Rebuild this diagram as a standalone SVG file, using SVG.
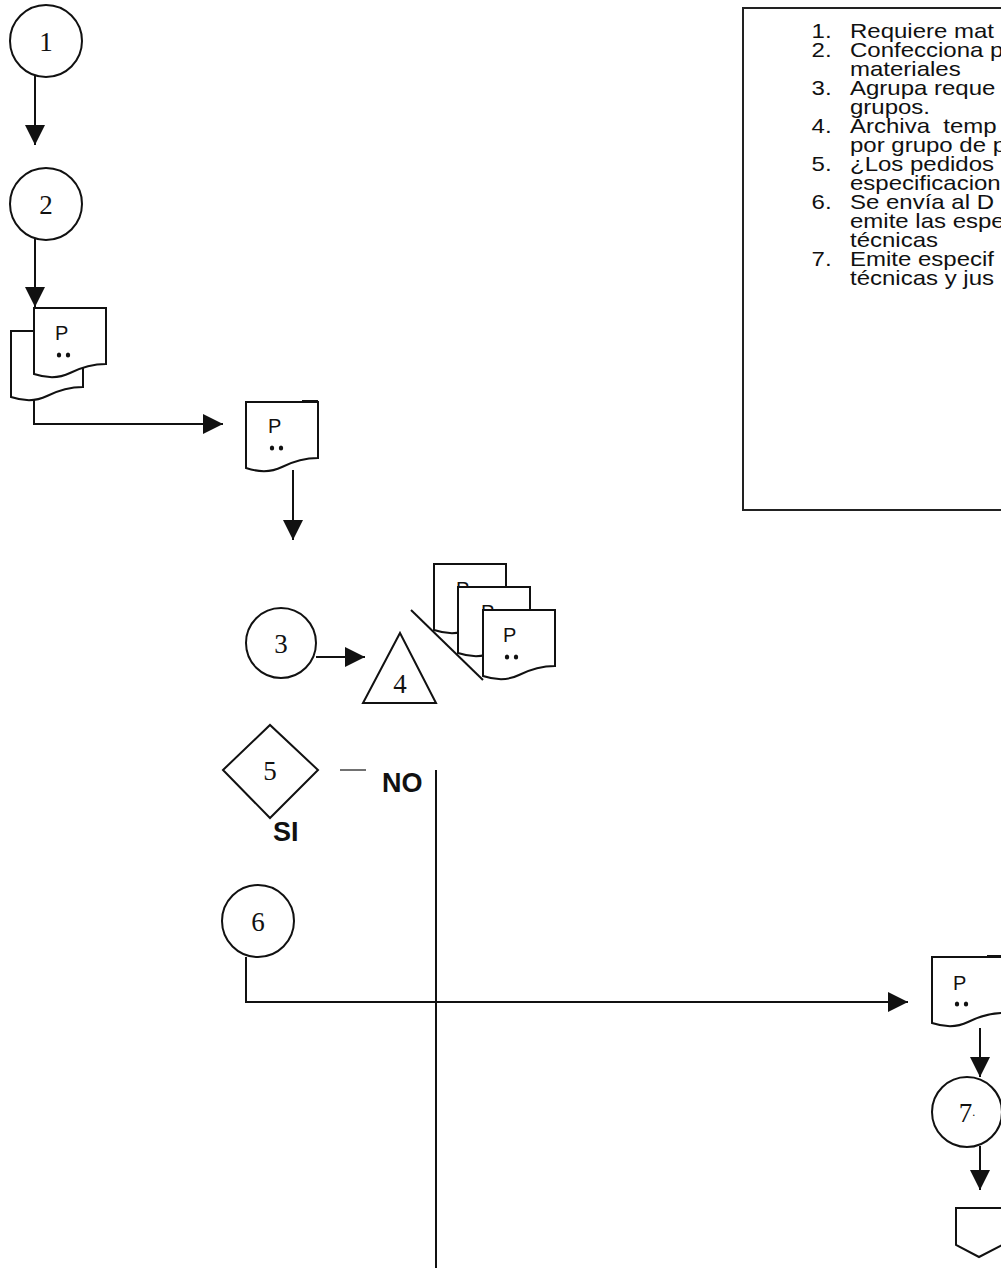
<svg xmlns="http://www.w3.org/2000/svg" width="1001" height="1275" viewBox="0 0 1001 1275">
<style>
.sh{fill:#fff;stroke:#111;stroke-width:2}
.ln{fill:none;stroke:#111;stroke-width:2}
.num{font-family:"Liberation Serif",serif;font-size:27px;fill:#111;text-anchor:middle}
.p{font-family:"Liberation Sans",Arial,sans-serif;font-size:20px;fill:#111}
.dot{fill:#111}
.lbl{font-family:"Liberation Sans",Arial,sans-serif;font-size:27px;font-weight:bold;fill:#111}
.lst{font-family:"Liberation Sans",Arial,sans-serif;font-size:20px;fill:#111;white-space:pre}
</style>
<defs>
<marker id="ah" markerUnits="userSpaceOnUse" markerWidth="20" markerHeight="20" viewBox="0 0 20 20" refX="20" refY="10" orient="auto">
<path d="M0,0 L20,10 L0,20 z" fill="#111"/>
</marker>
<path id="doc" d="M0,0 H72 V56 C58,56 46,60 36,65 C24,71 12,70 0,66 Z"/>
</defs>
<rect width="1001" height="1275" fill="#fff"/>

<g id="connectors">
<path class="ln" d="M35,75 V145" marker-end="url(#ah)"/>
<path class="ln" d="M35,239 V307" marker-end="url(#ah)"/>
<path class="ln" d="M34,400 V424 H223" marker-end="url(#ah)"/>
<path class="ln" d="M293,470 V540" marker-end="url(#ah)"/>
<path class="ln" d="M316,657 H365" marker-end="url(#ah)"/>
<path class="ln" d="M246,957 V1002 H908" marker-end="url(#ah)"/>
<path class="ln" d="M980,1028 V1077" marker-end="url(#ah)"/>
<path class="ln" d="M980,1146 V1190" marker-end="url(#ah)"/>
<path class="ln" d="M436,770 V1268"/>
<path fill="none" stroke="#111" stroke-width="1.2" d="M340,770 H366"/>
</g>

<g id="n1">
<circle class="sh" cx="46" cy="41" r="36"/>
<text class="num" x="46" y="51">1</text>
</g>
<g id="n2">
<circle class="sh" cx="46" cy="204" r="36"/>
<text class="num" x="46" y="214">2</text>
</g>
<g id="doc-stack-1">
<use href="#doc" class="sh" x="11" y="331"/>
<use href="#doc" class="sh" x="34" y="308"/>
<text class="p" x="55" y="340">P</text>
<ellipse class="dot" cx="59" cy="355" rx="2.2" ry="2.6"/>
<ellipse class="dot" cx="68" cy="355" rx="2.2" ry="2.6"/>
</g>
<g id="doc-2">
<use href="#doc" class="sh" x="246" y="402"/>
<path class="ln" d="M302,401 H318"/>
<text class="p" x="268" y="433">P</text>
<ellipse class="dot" cx="272" cy="448" rx="2.2" ry="2.6"/>
<ellipse class="dot" cx="281" cy="448" rx="2.2" ry="2.6"/>
</g>
<g id="n3">
<circle class="sh" cx="281" cy="643" r="35"/>
<text class="num" x="281" y="653">3</text>
</g>
<g id="n4">
<path class="sh" d="M400,633 L436,703 H363 Z"/>
<text class="num" x="400" y="693">4</text>
<path class="ln" d="M411,610 L483,680"/>
</g>
<g id="archive-docs">
<use href="#doc" class="sh" x="434" y="564"/>
<text class="p" x="456" y="596">P</text>
<use href="#doc" class="sh" x="458" y="587"/>
<text class="p" x="481" y="619">P</text>
<use href="#doc" class="sh" x="483" y="610"/>
<text class="p" x="503" y="642">P</text>
<ellipse class="dot" cx="507" cy="657" rx="2.2" ry="2.6"/>
<ellipse class="dot" cx="516" cy="657" rx="2.2" ry="2.6"/>
</g>
<g id="n5">
<path class="sh" d="M223,770 L270,725 L318,770 L270,818 Z"/>
<text class="num" x="270" y="780">5</text>
<text class="lbl" x="382" y="792">NO</text>
<text class="lbl" x="273" y="841">SI</text>
</g>
<g id="n6">
<circle class="sh" cx="258" cy="921" r="36"/>
<text class="num" x="258" y="931">6</text>
</g>
<g id="doc-3">
<use href="#doc" class="sh" x="932" y="957"/>
<path class="ln" d="M987,956 H1004"/>
<text class="p" x="953" y="990">P</text>
<ellipse class="dot" cx="957" cy="1004" rx="2.2" ry="2.6"/>
<ellipse class="dot" cx="966" cy="1004" rx="2.2" ry="2.6"/>
</g>
<g id="n7">
<circle class="sh" cx="967" cy="1112" r="35"/>
<text class="num" x="967" y="1122">7<tspan font-size="12" dy="-6">.</tspan></text>
</g>
<g id="offpage">
<path class="sh" d="M956,1208 H1002 V1245 L979,1257 L956,1245 Z"/>
</g>

<g id="legend">
<rect x="743" y="8" width="300" height="502" fill="none" stroke="#222" stroke-width="2"/>
<g transform="translate(850 0) scale(1.2 1) translate(-850 0)">
<text class="lst" x="818" y="38">1.</text><text class="lst" x="850" y="38">Requiere mat</text>
<text class="lst" x="818" y="57">2.</text><text class="lst" x="850" y="57">Confecciona p</text>
<text class="lst" x="850" y="76">materiales</text>
<text class="lst" x="818" y="95">3.</text><text class="lst" x="850" y="95">Agrupa reque</text>
<text class="lst" x="850" y="114">grupos.</text>
<text class="lst" x="818" y="133">4.</text><text class="lst" x="850" y="133">Archiva  temp</text>
<text class="lst" x="850" y="152">por grupo de p</text>
<text class="lst" x="818" y="171">5.</text><text class="lst" x="850" y="171">¿Los pedidos</text>
<text class="lst" x="850" y="190">especificacion</text>
<text class="lst" x="818" y="209">6.</text><text class="lst" x="850" y="209">Se envía al D</text>
<text class="lst" x="850" y="228">emite las espe</text>
<text class="lst" x="850" y="247">técnicas</text>
<text class="lst" x="818" y="266">7.</text><text class="lst" x="850" y="266">Emite especif</text>
<text class="lst" x="850" y="285">técnicas y jus</text>
</g>
</g>
</svg>
